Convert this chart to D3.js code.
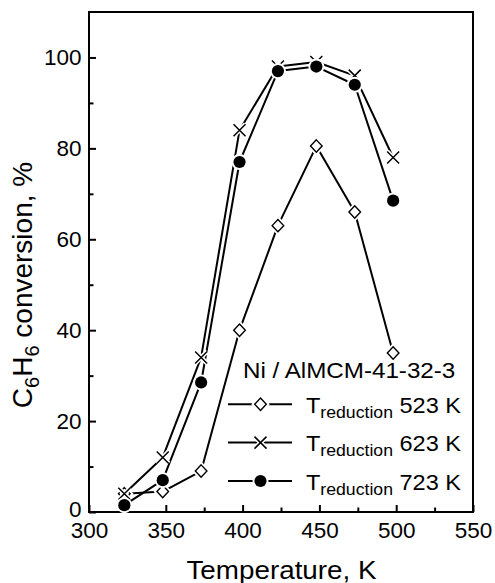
<!DOCTYPE html>
<html>
<head>
<meta charset="utf-8">
<script src="https://cdn.jsdelivr.net/npm/d3@7"></script>
<style>
  html, body { margin: 0; padding: 0; background: #fff; }
  svg { display: block; font-family: "Liberation Sans", Arial, Helvetica, sans-serif; }
</style>
</head>
<body>
<svg id="chart" width="495" height="583"></svg>
<script>
// ---- data ----
const temperatures = [323, 348, 373, 398, 423, 448, 473, 498];
const conv523 = [4, 4.5, 9, 40, 63, 80.5, 66, 35];
const conv623 = [4, 12, 34, 84, 98, 99, 96, 78];
const conv723 = [1.5, 7, 28.5, 77, 97, 98, 94, 68.5];
const seriesLabels = ["523 K", "623 K", "723 K"];
const seriesMarkers = ["diamond", "cross", "circle"];
const xTicks = [300, 350, 400, 450, 500, 550];
const xMinorTicks = [325, 375, 425, 475, 525];
const yTicks = [0, 20, 40, 60, 80, 100];
const yMinorTicks = [10, 30, 50, 70, 90];
const legendTitle = "Ni / AlMCM-41-32-3";
const xTitle = "Temperature, K";

// ---- layout ----
const L = 89, R = 473, T = 12, B = 512;
const svg = d3.select("#chart");
const x = d3.scaleLinear().domain([300, 550]).range([L, R]);
const y = d3.scaleLinear().domain([0, 110]).range([B, T]);

const seriesValues = [conv523, conv623, conv723];
const series = seriesValues.map((vals, i) => ({
  label: seriesLabels[i],
  marker: seriesMarkers[i],
  points: temperatures.map((t, j) => ({ t, v: vals[j] }))
}));

// ---- axes ----
const axX = svg.append("g").attr("transform", `translate(0,${B})`)
  .call(d3.axisBottom(x).tickValues(xTicks).tickSize(-7).tickPadding(10).tickFormat(d3.format("d")));
const axXm = svg.append("g").attr("transform", `translate(0,${B})`)
  .call(d3.axisBottom(x).tickValues(xMinorTicks).tickSize(-4.5).tickFormat(""));
const axY = svg.append("g").attr("transform", `translate(${L},0)`)
  .call(d3.axisLeft(y).tickValues(yTicks).tickSize(-7).tickPadding(7.5).tickFormat(d3.format("d")));
const axYm = svg.append("g").attr("transform", `translate(${L},0)`)
  .call(d3.axisLeft(y).tickValues(yMinorTicks).tickSize(-4.5).tickFormat(""));
[axX, axXm, axY, axYm].forEach(g => {
  g.select(".domain").remove();
  g.selectAll(".tick line").attr("stroke", "#000").attr("stroke-width", 2);
  g.selectAll("text").attr("fill", "#000").attr("font-size", 22.5)
    .attr("font-family", "'Liberation Sans', Arial, sans-serif");
});
// lift the "0" label a touch so it clears the "300" label
axY.selectAll(".tick").filter(d => d === 0).select("text").attr("dy", "0.2em");

// frame
svg.append("rect").attr("x", L).attr("y", T).attr("width", R - L).attr("height", B - T)
  .attr("fill", "none").attr("stroke", "#000").attr("stroke-width", 2);

// ---- titles ----
svg.append("text")
  .attr("transform", `translate(${(L + R) / 2 + 0.5},578.5) scale(1.07,1)`)
  .attr("text-anchor", "middle").attr("font-size", 26).attr("fill", "#000")
  .text(xTitle);

const yt = svg.append("text")
  .attr("transform", "translate(31.5,285) rotate(-90)")
  .attr("text-anchor", "middle").attr("font-size", 28).attr("fill", "#000");
yt.append("tspan").text("C");
yt.append("tspan").attr("font-size", 20).attr("dy", 7).text("6");
yt.append("tspan").attr("dy", -7).text("H");
yt.append("tspan").attr("font-size", 20).attr("dy", 7).text("6");
yt.append("tspan").attr("dy", -7).text(" conversion, %");

// ---- marker drawing ----
function drawMarker(g, type, cx, cy, halo) {
  if (type === "diamond") {
    const p = `M${cx},${cy - 6.2}L${cx + 5.8},${cy}L${cx},${cy + 6.2}L${cx - 5.8},${cy}Z`;
    g.append("path").attr("d", p).attr("fill", "#fff")
      .attr("stroke", halo ? "#fff" : "#000").attr("stroke-width", halo ? 5 : 1.4)
      .attr("stroke-linejoin", "miter");
  } else if (type === "cross") {
    const p = `M${cx - 6},${cy - 6}L${cx + 6},${cy + 6}M${cx - 6},${cy + 6}L${cx + 6},${cy - 6}`;
    g.append("path").attr("d", p).attr("fill", "none")
      .attr("stroke", halo ? "#fff" : "#000").attr("stroke-width", halo ? 4.5 : 1.5);
  } else {
    g.append("circle").attr("cx", cx).attr("cy", cy).attr("r", halo ? 8 : 6.1)
      .attr("fill", halo ? "#fff" : "#000");
  }
}

// ---- lines ----
const line = d3.line().x(d => x(d.t)).y(d => y(d.v));
const linesG = svg.append("g");
series.forEach(s => {
  linesG.append("path").datum(s.points).attr("d", line)
    .attr("fill", "none").attr("stroke", "#000").attr("stroke-width", 2)
    .attr("stroke-linejoin", "round");
});

// ---- markers ----
const markG = svg.append("g");
series.forEach(s => {
  s.points.forEach(p => drawMarker(markG, s.marker, x(p.t), y(p.v), true));
  s.points.forEach(p => drawMarker(markG, s.marker, x(p.t), y(p.v), false));
});

// ---- legend ----
const lg = svg.append("g");
lg.append("text")
  .attr("transform", "translate(243,378.3) scale(1.1,1)")
  .attr("font-size", 22).attr("fill", "#000").text(legendTitle);

series.forEach((s, i) => {
  const base = 412.7 + i * 38.4;
  const ly = base - 8.5;
  lg.append("line").attr("x1", 228).attr("x2", 292).attr("y1", ly).attr("y2", ly)
    .attr("stroke", "#000").attr("stroke-width", 2);
  drawMarker(lg, s.marker, 260.5, ly, true);
  drawMarker(lg, s.marker, 260.5, ly, false);
  const t = lg.append("text")
    .attr("transform", `translate(306,${base}) scale(1.07,1)`)
    .attr("font-size", 22).attr("fill", "#000");
  t.append("tspan").text("T");
  t.append("tspan").attr("font-size", 16.5).attr("dy", 5).text("reduction");
  t.append("tspan").attr("dy", -5).text(" " + s.label);
});
</script>
</body>
</html>
